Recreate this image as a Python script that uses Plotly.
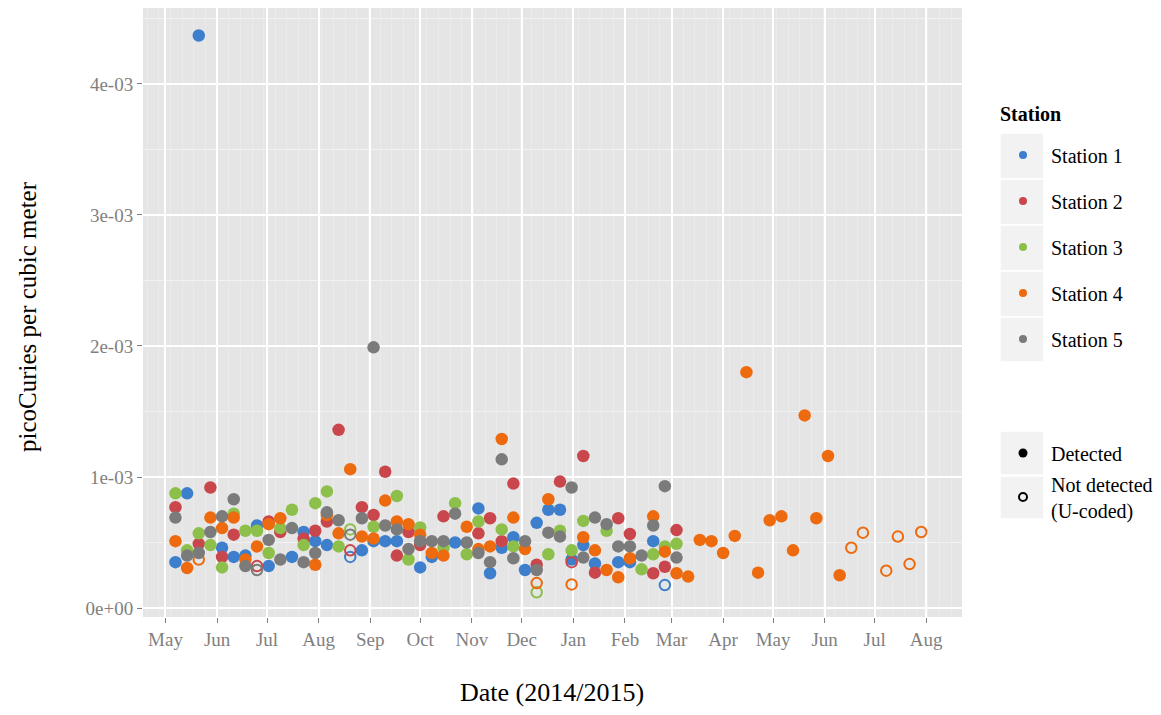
import plotly.graph_objects as go

# ---------------- data ----------------
sample_dates = [
    "2014-05-07", "2014-05-14", "2014-05-21", "2014-05-28", "2014-06-04", "2014-06-11",
    "2014-06-18", "2014-06-25", "2014-07-02", "2014-07-09", "2014-07-16", "2014-07-23",
    "2014-07-30", "2014-08-06", "2014-08-13", "2014-08-20", "2014-08-27", "2014-09-03",
    "2014-09-10", "2014-09-17", "2014-09-24", "2014-10-01", "2014-10-08", "2014-10-15",
    "2014-10-22", "2014-10-29", "2014-11-05", "2014-11-12", "2014-11-19", "2014-11-26",
    "2014-12-03", "2014-12-10", "2014-12-17", "2014-12-24", "2014-12-31", "2015-01-07",
    "2015-01-14", "2015-01-21", "2015-01-28", "2015-02-04", "2015-02-11", "2015-02-18",
    "2015-02-25", "2015-03-04", "2015-03-11", "2015-03-18", "2015-03-25", "2015-04-01",
    "2015-04-08", "2015-04-15", "2015-04-22", "2015-04-29", "2015-05-06", "2015-05-13",
    "2015-05-20", "2015-05-27", "2015-06-03", "2015-06-10", "2015-06-17", "2015-06-24",
    "2015-07-01", "2015-07-08", "2015-07-15", "2015-07-22", "2015-07-29",
]

# values in units of 1e-3 pCi/m3 (None = no sample shown)
station1_x1e3 = [0.35, 0.875, 4.37, None, 0.46, 0.39, 0.40, 0.63, 0.32, None, 0.39, 0.58,
                 0.51, 0.48, None, 0.39, 0.44, 0.51, 0.51, 0.51, None, 0.31, 0.39, None,
                 0.50, None, 0.76, 0.265, 0.46, 0.54, 0.29, 0.65, 0.75, 0.75, 0.37, 0.48,
                 0.34, None, 0.35, 0.35, None, 0.51, 0.175, None]
station2_x1e3 = [0.77, None, 0.49, 0.92, 0.39, 0.56, None, 0.32, 0.66, 0.58, None, 0.53,
                 0.59, 0.66, 1.36, 0.44, 0.77, 0.71, 1.04, 0.40, 0.58, 0.48, None, 0.70,
                 None, None, 0.57, 0.685, 0.51, 0.95, None, 0.33, None, 0.965, 0.35, 1.16,
                 0.27, None, 0.685, 0.565, None, 0.265, 0.315, 0.595]
station3_x1e3 = [0.875, 0.44, 0.57, 0.48, 0.31, 0.72, 0.59, 0.59, 0.42, 0.61, 0.75, 0.48,
                 0.80, 0.89, 0.47, 0.60, None, 0.62, None, 0.855, 0.37, 0.615, None, 0.46,
                 0.80, 0.41, 0.66, None, 0.60, 0.47, None, 0.12, 0.41, 0.59, 0.44, 0.665,
                 None, 0.59, None, None, 0.295, 0.41, 0.47, 0.49]
station4_x1e3 = [0.51, 0.305, 0.37, 0.69, 0.61, 0.69, 0.37, 0.47, 0.64, 0.685, None, None,
                 0.33, 0.71, 0.57, 1.06, 0.545, 0.53, 0.82, 0.66, 0.64, 0.56, 0.42, 0.40,
                 None, 0.62, 0.45, 0.47, 1.29, 0.69, 0.45, 0.19, 0.83, None, 0.18, 0.54,
                 0.44, 0.29, 0.235, 0.38, None, 0.70, 0.43, 0.265, 0.24, 0.52, 0.51, 0.42,
                 0.55, 1.80, 0.27, 0.67, 0.70, 0.44, 1.47, 0.685, 1.16, 0.25, 0.46, 0.575,
                 None, 0.285, 0.545, 0.335, 0.58]
station5_x1e3 = [0.69, 0.40, 0.42, 0.58, 0.70, 0.83, 0.32, 0.29, 0.52, 0.37, 0.61, 0.35,
                 0.42, 0.73, 0.67, 0.56, 0.685, 1.99, 0.63, 0.60, 0.45, 0.51, 0.51, 0.51,
                 0.72, 0.50, 0.42, 0.35, 1.135, 0.38, 0.51, 0.29, 0.575, 0.545, 0.92, 0.385,
                 0.69, 0.64, 0.47, 0.47, 0.40, 0.63, 0.93, 0.385]

# sample indices that were U-coded (not detected)
station1_ucoded = [15, 42]
station2_ucoded = [7, 15, 34]
station3_ucoded = [15, 31]
station4_ucoded = [2, 31, 34, 58, 59, 61, 62, 63, 64]
station5_ucoded = [7, 15]

station_names = ["Station 1", "Station 2", "Station 3", "Station 4", "Station 5"]
station_colors = ["#3d7fcc", "#c9474c", "#8dbf4b", "#ee6a0e", "#7b7b7b"]

y_tick_vals = [0, 1e-3, 2e-3, 3e-3, 4e-3]
y_tick_text = ["0e+00", "1e-03", "2e-03", "3e-03", "4e-03"]

# ---------------- figure ----------------
SERIF = "Liberation Serif"
W, H = 1153, 707          # page body has an 8px margin
L, R, T, B = 135, 954, 0, 609   # plot area in figure pixels


def px(x_screen):
    return (x_screen - 8 - L) / (R - L)


def py(y_screen):
    return (B - (y_screen - 8)) / (B - T)


fig = go.Figure()

all_vals = [station1_x1e3, station2_x1e3, station3_x1e3, station4_x1e3, station5_x1e3]
all_ucoded = [station1_ucoded, station2_ucoded, station3_ucoded, station4_ucoded, station5_ucoded]

for name, vals, ucoded, col in zip(station_names, all_vals, all_ucoded, station_colors):
    dx, dy, nx, ny = [], [], [], []
    for k, v in enumerate(vals):
        if v is None:
            continue
        if k in ucoded:
            nx.append(sample_dates[k]); ny.append(v * 1e-3)
        else:
            dx.append(sample_dates[k]); dy.append(v * 1e-3)
    fig.add_trace(go.Scatter(x=dx, y=dy, mode="markers", name=name, showlegend=False,
                             marker=dict(size=12.5, color=col, line=dict(width=0))))
    fig.add_trace(go.Scatter(x=nx, y=ny, mode="markers", name=name + " (U)", showlegend=False,
                             marker=dict(symbol="circle-open", size=10.5, color=col,
                                         line=dict(width=2, color=col))))

# legend-only entries
legend_keys = ["legend", "legend2", "legend3", "legend4", "legend5"]
for name, col, lk in zip(station_names, station_colors, legend_keys):
    fig.add_trace(go.Scatter(x=[None], y=[None], mode="markers", name=name, legend=lk,
                             marker=dict(size=8, color=col)))
fig.add_trace(go.Scatter(x=[None], y=[None], mode="markers", name="Detected", legend="legend6",
                         marker=dict(size=9, color="black")))
fig.add_trace(go.Scatter(x=[None], y=[None], mode="markers", name="Not detected<br>(U-coded)",
                         legend="legend7",
                         marker=dict(symbol="circle-open", size=8, color="black",
                                     line=dict(width=2, color="black"))))

leg_common = dict(xanchor="left", yanchor="middle", bgcolor="rgba(0,0,0,0)", borderwidth=0,
                  font=dict(family=SERIF, size=20, color="black"), itemwidth=46)
legend_y = [155, 201, 247, 293, 339, 453, 497]
legend_layout = {}
for i, yy in enumerate(legend_y):
    key = "legend" if i == 0 else f"legend{i+1}"
    legend_layout[key] = dict(x=px(995), y=py(yy), **leg_common)

# legend key boxes
shapes = []
boxes = [(133, 179), (179, 225), (225, 271), (271, 317), (317, 362), (431, 475), (476, 519)]
for y0, y1 in boxes:
    shapes.append(dict(type="rect", xref="paper", yref="paper", x0=px(1000), x1=px(1044),
                       y0=py(y1), y1=py(y0), fillcolor="#f2f2f2",
                       line=dict(color="white", width=1.5), layer="below"))

annotations = [
    dict(text="picoCuries per cubic meter", x=px(28), y=py(317), xref="paper", yref="paper",
         xanchor="center", yanchor="middle",
         textangle=-90, showarrow=False, font=dict(family=SERIF, size=25, color="black")),
    dict(text="Date (2014/2015)", x=px(552), y=py(692), xref="paper", yref="paper",
         xanchor="center", yanchor="middle",
         showarrow=False, font=dict(family=SERIF, size=26, color="black")),
    dict(text="<b>Station</b>", x=px(998), y=py(114), xref="paper", yref="paper",
         xanchor="left", yanchor="middle", showarrow=False,
         font=dict(family=SERIF, size=20, color="black")),
]

fig.update_layout(
    width=W, height=H,
    margin=dict(l=L, r=W - R, t=T, b=H - B, autoexpand=False),
    paper_bgcolor="white",
    plot_bgcolor="#e5e5e5",
    shapes=shapes,
    annotations=annotations,
    **legend_layout,
)

fig.update_xaxes(
    type="date",
    range=["2014-04-17 12:00", "2015-08-22 12:00"],
    tick0="2014-05-01", dtick="M1", tickformat="%b",
    ticks="outside", ticklen=5, tickwidth=1, tickcolor="#7f7f7f",
    tickfont=dict(family=SERIF, size=19, color="#7f7f7f"),
    showgrid=True, gridcolor="white", gridwidth=1.6,
    minor=dict(showgrid=True, dtick=7 * 86400000, tick0="2014-05-04",
               gridcolor="#ebebeb", gridwidth=1, ticks=""),
    zeroline=False, showline=False,
)
fig.update_yaxes(
    range=[-0.0687e-3, 4.580e-3],
    tickvals=y_tick_vals, ticktext=y_tick_text,
    ticks="outside", ticklen=5, tickwidth=1, tickcolor="#7f7f7f",
    tickfont=dict(family=SERIF, size=19, color="#7f7f7f"),
    showgrid=True, gridcolor="white", gridwidth=1.6,
    minor=dict(showgrid=True, dtick=0.5e-3, tick0=0, gridcolor="#f2f2f2", gridwidth=1, ticks=""),
    zeroline=False, showline=False,
)

fig.write_html("out.html")
